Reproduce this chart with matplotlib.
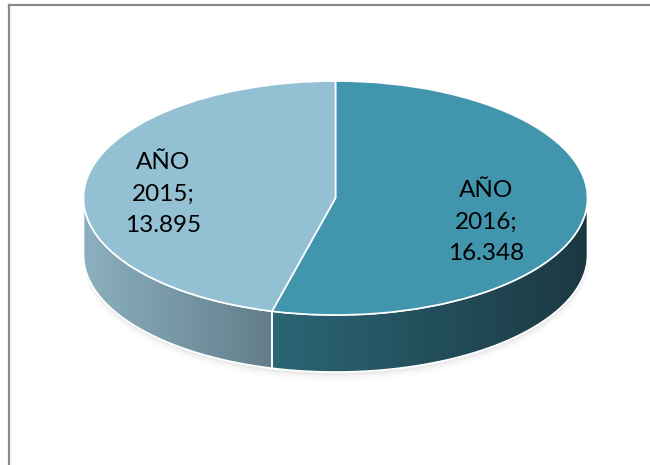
import matplotlib.pyplot as plt
import numpy as np
from matplotlib.colors import to_rgb
from matplotlib.lines import Line2D
from matplotlib.patches import Polygon

# data
years = ['AÑO 2016', 'AÑO 2015']
values = [16348, 13895]
value_text = ['16.348', '13.895']
top_colors = ['#4196ae', '#93c1d3']
side_left = ['#2b6676', '#8cb0bf']
side_right = ['#1b3842', '#627e8a']

W, H = 650, 465
fig = plt.figure(figsize=(W / 100, H / 100), dpi=100)
ax = fig.add_axes([0, 0, 1, 1])

# ellipse geometry in pixels
cx, cy, rx, ry, depth = 335.5, 198, 252, 117, 57
d = depth / ry

wedges, _ = ax.pie(values, startangle=90, counterclock=False, radius=1,
                   colors=top_colors,
                   wedgeprops=dict(edgecolor='white', linewidth=1.2, zorder=3))
ax.set_aspect('auto')
ax.axis('off')


def front_part(a1, a2):
    # overlap of the wedge angle range with the front half (-180..0)
    best = None
    for k in (-1, 0, 1):
        lo, hi = max(a1 + 360 * k, -180), min(a2 + 360 * k, 0)
        if hi > lo and (best is None or hi - lo > best[1] - best[0]):
            best = (lo, hi)
    return best


# side walls with horizontal gradient
for i, w in enumerate(wedges):
    part = front_part(*sorted([w.theta1, w.theta2]))
    if part is None:
        continue
    t = np.radians(np.linspace(part[0], part[1], 120))
    xs = np.concatenate([np.cos(t), np.cos(t[::-1])])
    ys = np.concatenate([np.sin(t), np.sin(t[::-1]) - d])
    poly = Polygon(np.column_stack([xs, ys]), closed=True, facecolor='none',
                   edgecolor='white', linewidth=1.2, zorder=2)
    ax.add_patch(poly)
    c1 = np.array(to_rgb(side_left[i]))
    c2 = np.array(to_rgb(side_right[i]))
    f = np.linspace(0, 1, 256)[None, :, None]
    grad = c1 + (c2 - c1) * f
    im = ax.imshow(grad, extent=[xs.min(), xs.max(), ys.min(), ys.max()],
                   aspect='auto', zorder=1.5, interpolation='bilinear')
    im.set_clip_path(poly)

# soft shadow under the pie
t = np.radians(np.linspace(-180, 0, 200))
for k, a in enumerate([0.07, 0.04, 0.02]):
    ax.fill_between(np.cos(t), np.sin(t) - d - 0.025 * (k + 1),
                    np.sin(t) - d, color='#666666', alpha=a, lw=0, zorder=1)

# labels
label_pos = [(486, 222), (163, 194)]
for i, (px, py) in enumerate(label_pos):
    word, year = years[i].split()
    ax.text((px - cx) / rx, (cy - py) / ry, f'{word}\n{year};\n{value_text[i]}',
            ha='center', va='center', fontsize=17.5, family='Lato',
            linespacing=1.62, color='black', zorder=5)

ax.set_xlim(-cx / rx, (W - cx) / rx)
ax.set_ylim((cy - H) / ry, cy / ry)

# chart frame
fig.add_artist(Line2D([8.5 / W, 8.5 / W], [0, 1 - 5 / H], color='#8a8a8a', lw=1.6,
                      transform=fig.transFigure))
fig.add_artist(Line2D([8.5 / W, 1], [1 - 5 / H, 1 - 5 / H], color='#8a8a8a', lw=1.6,
                      transform=fig.transFigure))

fig.savefig('out.png', dpi=100)
